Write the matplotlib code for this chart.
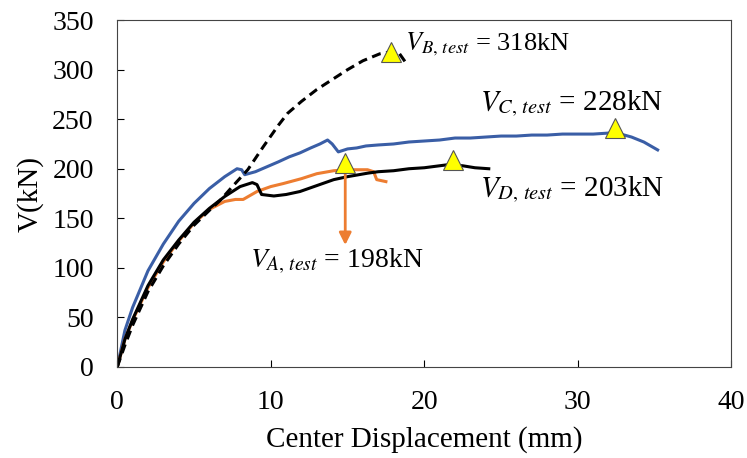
import matplotlib.pyplot as plt

plt.rcParams['font.family'] = ['Liberation Serif', 'DejaVu Serif']
plt.rcParams['mathtext.fontset'] = 'stix'

# specimen C (blue)
c_x = [0, 0.5, 1, 2, 3, 4, 5, 6, 7, 7.8, 8.1, 8.3, 9, 9.75, 10.5, 11.2, 11.9, 12.6, 13.2, 13.7, 14.0, 14.4,
       15, 15.6, 16.2, 17, 18, 19, 20, 21, 22, 23, 24, 25, 26, 27, 28, 29, 30, 31, 32, 32.8, 33.5, 34.3, 35.2]
c_y = [0, 37, 60, 97, 124, 147, 165, 180, 192, 200, 199, 194, 197, 202, 207, 212, 216, 221, 225, 229, 225, 217,
       220, 221, 223, 224, 225, 227, 228, 229, 231, 231, 232, 233, 233, 234, 234, 235, 235, 235, 236, 235, 232, 227, 219]

# specimen A (orange)
a_x = [0, 0.5, 1, 2, 3, 4, 5, 6, 7, 7.7, 8.2, 9.1, 10, 10.8, 12, 13, 14.1, 15, 16.3, 16.7, 16.9, 17.5]
a_y = [0, 28, 47, 80, 106, 127, 145, 159, 167, 169, 169, 177, 182, 185, 190, 195, 198, 199, 199, 197, 189, 187]

# specimen D (black)
d_x = [0, 0.5, 1, 2, 3, 4, 5, 6, 7, 8, 8.8, 9.1, 9.4, 10.2, 11, 11.9, 13, 14.1, 15, 16.3, 17, 18, 19, 20, 21.5, 22.5, 23.3, 24.2]
d_y = [0, 28, 48, 82, 108, 128, 146, 160, 172, 182, 186, 184, 174, 172.5, 174, 177, 183, 189, 192, 195.5, 197, 198, 200, 201, 204, 203, 201, 200]

# specimen B (dashed)
b_x = [0, 0.5, 1, 2, 3, 4, 5, 6, 6.7, 7.5, 8.5, 9.5, 10.5, 11.1, 12, 13, 14.1, 15, 16, 17.1, 17.8, 18.3, 18.8]
b_y = [0, 22, 42, 76, 102, 124, 143, 158, 168, 182, 199, 222, 244, 256, 268, 280, 291, 300, 309, 316, 318, 318, 307]

# peak markers (A, B, C, D)
peak_x = [14.85, 17.8, 32.45, 21.9]
peak_y = [206, 318, 241, 209]

fig, ax = plt.subplots(figsize=(7.47, 4.58), dpi=100)
fig.subplots_adjust(left=0.157, right=0.979, top=0.956, bottom=0.199)

ax.plot(c_x, c_y, color='#3a5ea6', lw=2.2)
ax.plot(a_x, a_y, color='#ed7d31', lw=2.2)
ax.plot(d_x, d_y, color='black', lw=2.2)
ax.plot(b_x, b_y, color='black', lw=2.2, ls=(0, (3, 1.8)))
ax.plot(peak_x, peak_y, ls='none', marker='^', ms=15, mfc='#ffff00', mec='#555555', mew=0.8, zorder=5)

ax.annotate('', xy=(14.85, 123), xytext=(14.85, 197),
            arrowprops=dict(arrowstyle='-|>', color='#ed7d31', lw=2, mutation_scale=18,
                            shrinkA=0, shrinkB=0))

ax.text(18.76, 320, r'$V_{B,\,test}$ = 318kN', fontsize=19, va='baseline')
ax.text(23.65, 259, r'$V_{C,\,test}$ = 228kN', fontsize=21, va='baseline')
ax.text(23.65, 172, r'$V_{D,\,test}$ = 203kN', fontsize=21, va='baseline')
ax.text(8.66, 100, r'$V_{A,\,test}$ = 198kN', fontsize=20, va='baseline')

ax.set_xlim(0, 40)
ax.set_ylim(0, 350)
ax.set_xticks([0, 10, 20, 30, 40])
ax.set_yticks(range(0, 351, 50))
ax.tick_params(direction='in', labelsize=20, length=5)
ax.tick_params(axis='x', pad=17)
ax.tick_params(axis='y', pad=17)
ax.set_xlabel('Center Displacement (mm)', fontsize=21)
ax.set_ylabel('V(kN)', fontsize=21)
ax.xaxis.label.set_va('center')
ax.yaxis.label.set_va('center')
ax.xaxis.set_label_coords(0.5, -0.21)
ax.yaxis.set_label_coords(-0.142, 0.5)
for s in ax.spines.values():
    s.set_color('#444444')

fig.savefig('out.png')
